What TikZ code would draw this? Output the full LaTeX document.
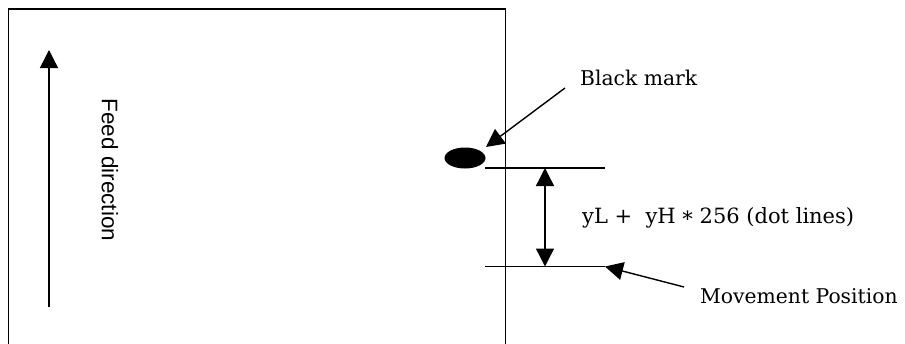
\documentclass[tikz,border=0pt]{standalone}
\usepackage{fontspec}
\setmainfont{DejaVu Serif}
\newfontfamily\feedsans{Liberation Sans}
\usetikzlibrary{arrows.meta,shapes.geometric}
\begin{document}
\begin{tikzpicture}[x=1pt,y=-1pt,
  thin line/.style={line width=1.1pt},
  arr/.style={line width=1.4pt,-{Triangle[length=18pt,width=18pt]}},
  darr/.style={line width=1.4pt,{Triangle[length=18pt,width=18pt]}-{Triangle[length=18pt,width=18pt]}},
  lbl/.style={inner sep=0pt,anchor=base west,font=\fontsize{20.3}{24}\selectfont}]
\useasboundingbox (0,0) rectangle (905,343);
\clip (0,0) rectangle (905,343);
% paper
\draw[thin line] (8.5,360) -- (8.5,9) -- (505.5,9) -- (505.5,360);
% feed direction
\coordinate (f0) at (49,307);
\coordinate (f1) at (49,50);
\draw[arr] (f0) -- (f1);
\node[rotate=-90,inner sep=0pt,font=\feedsans\fontsize{22.5}{24}\selectfont] (feed) at (110,170) {Feed direction};
% black mark
\node[ellipse,fill=black,minimum width=41pt,minimum height=21pt,inner sep=0pt] (mark) at (465,158) {};
\node[lbl] (bm) at (580,85) {Black mark};
\coordinate (bm0) at (565,88);
\coordinate (bm1) at (486,147);
\draw[arr] (bm0) -- (bm1);
% dimension lines
\coordinate (t0) at (485,168);
\coordinate (t1) at (605,168);
\coordinate (b0) at (485,266.5);
\coordinate (b1) at (605,266.5);
\draw[line width=1.4pt] (t0) -- (t1);
\draw[line width=1.4pt] (b0) -- (b1);
\coordinate (d0) at (545,168);
\coordinate (d1) at (545,266.5);
\draw[darr] (d0) -- (d1);
\node[lbl,font=\fontsize{21}{24}\selectfont] (dim) at (582,223) {yL +\ \ yH \raisebox{-0.3ex}{*} 256 (dot lines)};
% movement position
\node[lbl] (mp) at (700,303) {Movement Position};
\coordinate (mp0) at (684,287);
\draw[arr] (mp0) -- (b1);
\end{tikzpicture}
\end{document}
